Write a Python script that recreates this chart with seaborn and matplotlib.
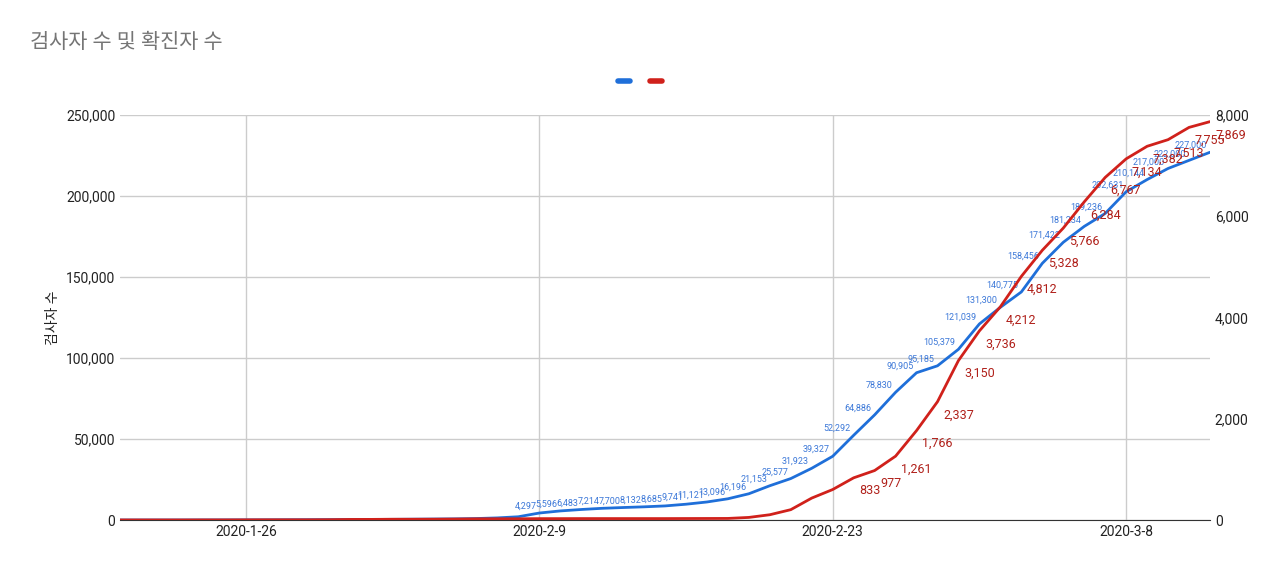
import matplotlib
matplotlib.use("Agg")
import matplotlib.pyplot as plt
import seaborn as sns
import pandas as pd
import numpy as np

dates = pd.date_range("2020-01-20", "2020-03-12", freq="D")
tests = [0, 5, 10, 20, 40, 60, 80, 100, 150, 200, 250, 300, 350, 400, 500, 600, 700, 900, 1300, 2000,
         4297, 5596, 6483, 7214, 7700, 8132, 8685, 9741, 11121, 13096,
         16196, 21153, 25577, 31923, 39327, 52292, 64886, 78830, 90905, 95185,
         105379, 121039, 131300, 140775, 158456, 171422, 181234, 189236, 202631,
         210144, 217000, 222000, 227000]
confirmed = [1, 1, 1, 1, 2, 2, 3, 4, 4, 4, 6, 11, 12, 15, 15, 16, 19, 23, 24, 24,
             27, 27, 28, 28, 28, 28, 28, 29, 30, 31,
             51, 104, 204, 433, 602, 833, 977, 1261, 1766, 2337,
             3150, 3736, 4212, 4812, 5328, 5766, 6284, 6767, 7134,
             7382, 7513, 7755, 7869]
df = pd.DataFrame({"date": dates, "tests": tests, "confirmed": confirmed})

sns.set_style("white")
plt.rcParams['font.family'] = ['Roboto', 'Noto Sans CJK KR', 'DejaVu Sans']
fig = plt.figure(figsize=(12.8, 5.72), dpi=100)
ax = fig.add_axes([120/1280, 52/572, 1090/1280, 405/572])
ax2 = ax.twinx()
blue, red = "#1f6fd9", "#d0211b"
sns.lineplot(data=df, x="date", y="tests", ax=ax, color=blue, lw=2)
sns.lineplot(data=df, x="date", y="confirmed", ax=ax2, color=red, lw=2)
ax.set_ylim(0, 250000); ax2.set_ylim(0, 8000)
ax.set_xlim(dates[0], dates[-1])
ax.set_yticks(np.arange(0, 250001, 50000))
ax2.set_yticks(np.arange(0, 8001, 2000))
fmt = matplotlib.ticker.StrMethodFormatter("{x:,.0f}")
ax.yaxis.set_major_formatter(fmt)
ax2.yaxis.set_major_formatter(matplotlib.ticker.StrMethodFormatter("{x:,.0f}"))
ticks = pd.to_datetime(["2020-01-26", "2020-02-09", "2020-02-23", "2020-03-08"])
ax.set_xticks(ticks)
ax.set_xticklabels(["2020-1-26", "2020-2-9", "2020-2-23", "2020-3-8"])
ax.grid(True, color="#cccccc", lw=1)
for a in (ax, ax2):
    a.tick_params(length=0, labelsize=10, colors="#222222")
    for s in a.spines.values():
        s.set_visible(False)
ax.spines["bottom"].set_visible(True); ax.spines["bottom"].set_color("#333333")
ax.set_xlabel("")
ax.set_ylabel("검사자 수", fontsize=10, color="#222222")
ax2.set_ylabel("")
for d, v in zip(df.date[20:], df.tests[20:]):
    ax.annotate(f"{v:,}", (d, v), xytext=(-2, 3), textcoords="offset points",
                ha="right", fontsize=6.5, color="#3c78d8")
for d, v in zip(df.date[35:], df.confirmed[35:]):
    ax2.annotate(f"{v:,}", (d, v), xytext=(4, -12), textcoords="offset points",
                 ha="left", fontsize=9, color="#b0201a")
fig.text(30/1280, 1-42/572, "검사자 수 및 확진자 수", fontsize=15, color="#757575", va="center")
fig.add_artist(plt.Line2D([618/1280, 630/1280], [1-81/572]*2, color=blue, lw=4))
fig.add_artist(plt.Line2D([650/1280, 662/1280], [1-81/572]*2, color=red, lw=4))
fig.savefig("out.png", dpi=100)
